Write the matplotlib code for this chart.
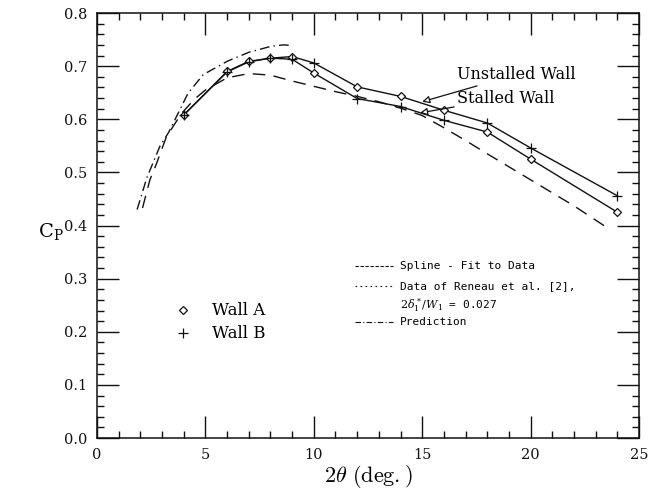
import matplotlib
matplotlib.use("Agg")
import matplotlib.pyplot as plt
import numpy as np
from matplotlib.ticker import MultipleLocator, FormatStrFormatter

plt.rcParams["font.family"] = ["DejaVu Serif"]
plt.rcParams["mathtext.fontset"] = "dejavuserif"

# measured pressure recovery, both walls
wall_x = [4, 6, 7, 8, 9, 10, 12, 14, 16, 18, 20, 24]
wall_a = [0.608, 0.690, 0.709, 0.715, 0.718, 0.687, 0.661, 0.643, 0.617, 0.576, 0.525, 0.425]
wall_b = [0.608, 0.689, 0.708, 0.715, 0.713, 0.706, 0.639, 0.624, 0.598, 0.593, 0.546, 0.456]

# Reneau et al. data (long dashes)
reneau_x = [2.1, 2.44, 2.75, 3.2, 3.9, 4.5, 5.0, 6.0, 7.0, 8.0, 9.0, 10.0, 11.0, 12.0,
            13.0, 14.0, 15.0, 16.0, 17.0, 18.0, 20.0, 22.0, 23.6]
reneau_y = [0.433, 0.486, 0.517, 0.567, 0.611, 0.638, 0.655, 0.678, 0.686, 0.683, 0.672,
            0.662, 0.652, 0.643, 0.633, 0.621, 0.607, 0.584, 0.560, 0.535, 0.486, 0.437, 0.394]

# prediction (dash-dot)
pred_x = [1.85, 2.3, 2.9, 3.3, 4.2, 4.9, 6.0, 7.0, 8.0, 8.6, 9.0]
pred_y = [0.430, 0.490, 0.549, 0.575, 0.649, 0.684, 0.709, 0.726, 0.737, 0.740, 0.739]

ink = "#111111"

fig = plt.figure(figsize=(6.52, 4.94), dpi=100)
ax = fig.add_axes([97 / 652, 56 / 494, 542 / 652, 425 / 494])

# upper / lower fitted curves follow whichever wall is unstalled / stalled
a = np.array(wall_a)
b = np.array(wall_b)
upper = np.maximum(a, b)
lower = np.minimum(a, b)
ax.plot(wall_x, upper, color=ink, lw=1.0)
ax.plot(wall_x, lower, color=ink, lw=1.0)

ax.plot(reneau_x, reneau_y, color=ink, lw=1.0, linestyle=(0, (9, 6)))
ax.plot(pred_x, pred_y, color=ink, lw=1.0, linestyle=(0, (7, 3, 1, 3)))

ax.plot(wall_x, wall_a, linestyle="none", marker="D", ms=4, mfc="white", mec=ink, mew=0.9)
ax.plot(wall_x, wall_b, linestyle="none", marker="+", ms=7, mec=ink, mew=0.9)

ax.set_xlim(0, 25)
ax.set_ylim(0, 0.8)
ax.xaxis.set_major_locator(MultipleLocator(5))
ax.xaxis.set_minor_locator(MultipleLocator(1))
ax.yaxis.set_major_locator(MultipleLocator(0.1))
ax.yaxis.set_minor_locator(MultipleLocator(0.02))
ax.yaxis.set_major_formatter(FormatStrFormatter("%.1f"))
ax.tick_params(which="both", direction="in", top=True, right=True, width=1.0, colors=ink,
               labelsize=10.5, pad=7)
ax.tick_params(which="major", length=16)
ax.tick_params(which="minor", length=5)
for s in ax.spines.values():
    s.set_linewidth(1.1)
    s.set_color(ink)

ax.set_xlabel(r"$2\theta\ \mathrm{(deg.)}$", fontsize=16, labelpad=1, math_fontfamily="cm")
ax.text(-0.085, 0.485, r"$\mathrm{C_P}$", transform=ax.transAxes, fontsize=14,
        ha="center", va="center")

# wall annotations
arrow = dict(arrowstyle="-|>", fc="white", ec=ink, lw=0.9, mutation_scale=11, shrinkA=0, shrinkB=0)
ax.annotate("Unstalled Wall", xy=(15.0, 0.633), xytext=(16.6, 0.684), fontsize=11.5,
            va="center", ha="left", arrowprops=arrow)
ax.annotate("Stalled Wall", xy=(14.9, 0.612), xytext=(16.6, 0.640), fontsize=11.5,
            va="center", ha="left", arrowprops=arrow)

# marker key
ax.plot([0.159], [0.301], transform=ax.transAxes, marker="D", ms=4, mfc="white", mec=ink, mew=0.9)
ax.plot([0.159], [0.247], transform=ax.transAxes, marker="+", ms=7, mec=ink, mew=0.9)
ax.text(0.212, 0.301, "Wall A", transform=ax.transAxes, fontsize=12, va="center")
ax.text(0.212, 0.247, "Wall B", transform=ax.transAxes, fontsize=12, va="center")

# line key
mono = "DejaVu Sans Mono"
kx = [0.476, 0.546]
ax.plot(kx, [0.405, 0.405], transform=ax.transAxes, color=ink, lw=0.8, linestyle=(0, (3, 1.5)))
ax.plot(kx, [0.357, 0.357], transform=ax.transAxes, color=ink, lw=0.8, linestyle=(0, (1.5, 3)))
ax.plot(kx, [0.272, 0.272], transform=ax.transAxes, color=ink, lw=0.8, linestyle=(0, (5, 2, 1, 2)))
ax.text(0.559, 0.405, "Spline - Fit to Data", transform=ax.transAxes, fontsize=8,
        family=mono, va="center")
ax.text(0.559, 0.357, "Data of Reneau et al. [2],", transform=ax.transAxes, fontsize=8,
        family=mono, va="center")
ax.text(0.559, 0.313, r"$2\delta_1^*/W_1$ = 0.027", transform=ax.transAxes, fontsize=8,
        family=mono, va="center")
ax.text(0.559, 0.272, "Prediction", transform=ax.transAxes, fontsize=8,
        family=mono, va="center")

fig.savefig("out.png", dpi=100)
